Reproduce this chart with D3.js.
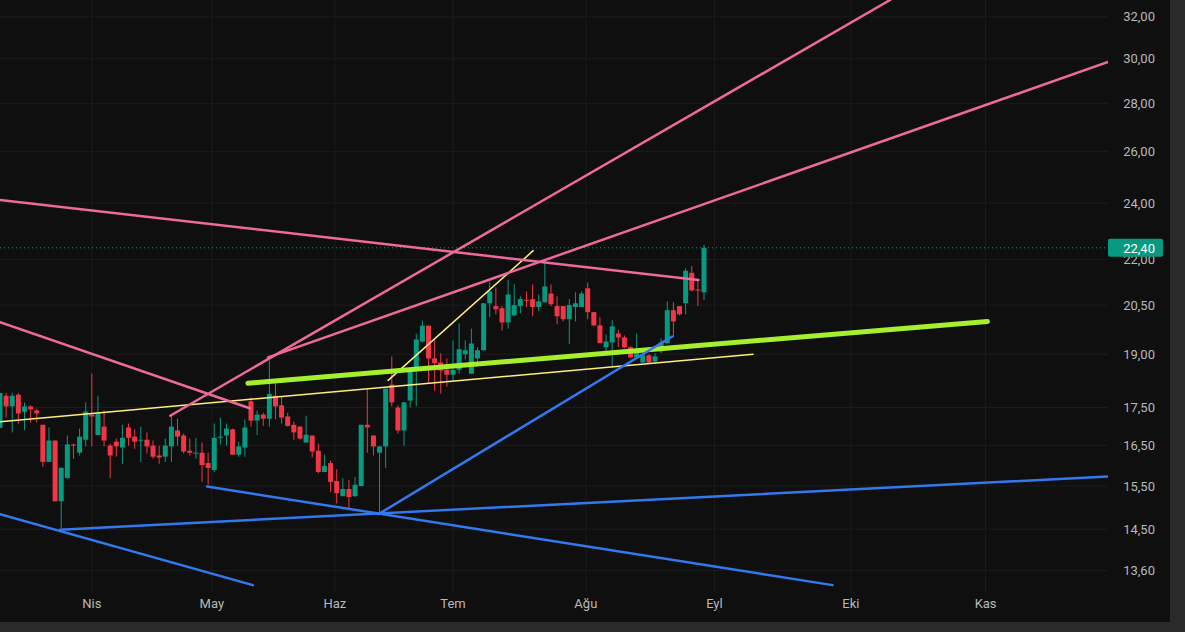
<!DOCTYPE html>
<html><head><meta charset="utf-8">
<script src="https://cdn.jsdelivr.net/npm/d3@7"></script>
<style>body{margin:0;background:#2a2a2a;overflow:hidden}svg{display:block}</style>
</head><body><svg id="c" width="1185" height="632"></svg>
<script>
// candles: [open, high, low, close], one per trading day
const candles = [
[16.96,17.90,16.96,17.90],[17.82,17.90,17.23,17.53],[17.53,17.90,16.84,17.82],[17.85,17.90,17.07,17.34],[17.39,17.64,16.90,17.53],
[17.53,17.56,17.10,17.45],[17.42,17.47,17.10,17.34],[17.04,17.04,15.97,16.09],[16.09,16.97,16.09,16.63],[16.63,16.63,15.14,15.14],
[15.14,15.96,14.53,15.94],[15.69,16.76,15.69,16.53],[16.53,16.55,16.17,16.50],[16.32,16.94,16.25,16.73],[16.65,17.64,16.48,17.39],
[17.31,18.44,16.48,17.26],[16.77,17.82,16.77,17.34],[16.99,17.42,16.48,16.63],[16.50,16.55,15.69,16.25],[16.60,16.68,16.22,16.48],
[16.45,17.04,16.04,16.70],[16.97,17.07,16.50,16.70],[16.73,16.92,16.42,16.60],[16.63,16.99,16.09,16.65],[16.65,16.84,16.30,16.48],
[16.50,16.63,16.17,16.22],[16.25,16.50,16.04,16.20],[16.22,16.68,16.09,16.50],[16.48,17.26,16.09,16.99],[16.89,17.20,16.50,16.73],
[16.76,16.81,16.30,16.35],[16.37,16.68,16.25,16.32],[16.30,16.70,16.17,16.32],[16.32,16.58,15.60,16.01],[16.06,16.32,15.53,15.94],
[15.89,17.07,15.84,16.70],[16.70,17.23,16.53,16.73],[16.76,17.07,16.50,16.94],[16.92,16.94,16.27,16.27],[16.27,16.60,16.22,16.48],
[16.45,17.18,16.22,16.97],[17.67,17.77,16.99,17.15],[17.15,17.42,16.77,17.31],[17.31,17.36,17.01,17.20],[17.20,18.82,16.99,17.87],
[17.82,18.23,17.18,17.53],[17.56,17.80,17.07,17.23],[17.26,17.36,16.99,17.01],[17.04,17.12,16.65,16.84],[16.99,17.01,16.65,16.68],
[16.58,17.28,16.58,16.78],[16.76,16.76,16.20,16.35],[16.37,16.55,15.81,15.84],[15.84,16.27,15.84,15.99],[16.06,16.12,15.36,15.60],
[15.62,15.91,15.09,15.33],[15.26,15.69,15.26,15.43],[15.43,15.65,14.97,15.24],[15.26,15.72,15.24,15.53],[15.50,17.04,15.50,17.04],
[17.04,18.02,16.32,16.97],[16.76,16.76,16.25,16.48],[16.32,16.48,14.88,16.48],[16.48,18.02,15.94,18.02],[18.13,18.94,17.53,17.64],
[17.50,17.56,16.81,16.89],[16.89,17.64,16.50,17.64],[17.69,18.60,17.50,18.60],[18.60,19.62,17.53,19.44],[19.38,20.02,19.35,19.86],
[19.86,19.86,18.15,18.88],[18.88,19.41,17.96,18.74],[18.76,19.03,17.88,18.53],[18.55,18.88,18.07,18.41],[18.41,19.41,18.23,18.55],
[18.55,19.93,18.44,19.15],[19.00,19.41,18.85,19.12],[18.44,19.77,18.44,19.32],[18.88,19.21,18.76,19.12],[19.12,20.56,19.12,20.56],
[20.56,21.26,20.12,20.94],[20.47,21.07,20.21,20.37],[20.40,20.47,19.71,19.96],[19.96,21.32,19.77,20.84],[20.18,21.17,20.15,20.50],
[20.47,20.78,20.24,20.69],[20.67,20.94,20.44,20.66],[20.69,21.17,20.15,20.44],[20.44,20.84,20.31,20.62],[20.59,22.00,20.59,21.10],
[20.87,21.17,20.47,20.53],[20.47,20.78,19.90,20.15],[20.47,20.47,19.99,20.06],[20.06,20.69,19.30,20.50],[20.44,20.91,19.99,20.56],
[20.44,20.94,20.44,20.87],[21.04,21.23,20.06,20.28],[20.28,20.28,19.84,19.87],[19.87,20.12,19.33,19.33],[19.21,19.59,18.97,19.38],
[19.35,20.03,18.62,19.84],[19.62,19.74,19.21,19.50],[19.50,19.56,19.18,19.21],[19.21,19.24,18.88,18.91],[18.91,19.62,18.91,19.06],
[18.76,19.03,18.76,18.97],[18.97,19.00,18.74,18.76],[18.79,19.03,18.74,18.94],[19.09,19.47,19.03,19.35],[19.33,20.62,19.30,20.34],
[20.34,20.59,19.50,19.99],[20.47,20.47,20.18,20.21],[20.56,21.70,20.21,21.62],[21.55,21.78,20.94,20.97],[21.00,21.30,20.47,20.97],
[20.91,22.50,20.66,22.40]
];
const priceTicks = [32,30,28,26,24,22,20.5,19,17.5,16.5,15.5,14.5,13.6];
const monthLabels = ["Nis","May","Haz","Tem","Ağu","Eyl","Eki","Kas"];
const monthIndex = [16.0,35.6,55.7,75.0,96.7,117.7,140.0,162.0];
const lastPrice = 22.40;
// trend lines: [index1, value1, index2, value2]
const pinkLines = [[28.8,17.28,146.4,32.85],[44.8,18.91,182,29.85],[1,24.12,115.1,21.31],[1,19.97,41.8,17.48]];
const limeLines = [[41.5,18.17,162.3,19.99]];
const yellowLines = [[1,17.12,124,19.0],[64.4,18.25,88.1,22.3]];
const blueLines = [[1,14.84,42.3,13.30],[10.8,14.49,182,15.73],[34.8,15.49,137,13.30],[62.8,14.84,110.8,19.53]];

const svg = d3.select("#c");
const W = 1170, PW = 1108, PH = 592;
svg.append("rect").attr("width",1185).attr("height",632).attr("fill","#2a2a2a");
svg.append("rect").attr("width",W).attr("height",622).attr("fill","#0f0f0f");
const x = d3.scaleLinear().domain([1,116]).range([0,704]);
const y = d3.scaleLog().domain([32.85,13.20]).range([0,590]);
const fmt = v => v.toFixed(2).replace(".",",");
const g = svg.append("g");
// grid
g.selectAll(".hg").data(priceTicks).join("line").attr("x1",0).attr("x2",PW)
 .attr("y1",d=>y(d)).attr("y2",d=>y(d)).attr("stroke","#1c1c1c");
g.selectAll(".vg").data(monthIndex).join("line").attr("y1",0).attr("y2",PH)
 .attr("x1",d=>x(d)).attr("x2",d=>x(d)).attr("stroke","#1c1c1c");
const clip = svg.append("clipPath").attr("id","pc").append("rect").attr("width",PW).attr("height",PH);
const p = svg.append("g").attr("clip-path","url(#pc)");
// last price dotted
p.append("line").attr("x1",0).attr("x2",PW).attr("y1",y(lastPrice)).attr("y2",y(lastPrice))
 .attr("stroke","#089981").attr("stroke-dasharray","1,3");
// candles
const up="#089981", dn="#f23645";
const cg = p.selectAll(".c").data(candles).join("g");
cg.append("line").attr("x1",(d,i)=>x(i+1)).attr("x2",(d,i)=>x(i+1))
 .attr("y1",d=>y(d[1])).attr("y2",d=>y(d[2])).attr("stroke",d=>d[3]>=d[0]?up:dn);
cg.append("rect").attr("x",(d,i)=>x(i+1)-2.5).attr("width",5)
 .attr("y",d=>y(Math.max(d[0],d[3]))).attr("height",d=>Math.max(1,Math.abs(y(d[0])-y(d[3]))))
 .attr("fill",d=>d[3]>=d[0]?up:dn);
function drawLines(arr,color,w){
  p.selectAll(null).data(arr).join("line")
   .attr("x1",d=>x(d[0])).attr("y1",d=>y(d[1])).attr("x2",d=>x(d[2])).attr("y2",d=>y(d[3]))
   .attr("stroke",color).attr("stroke-width",w).attr("stroke-linecap","round");
}
drawLines(yellowLines,"#ffee7a",1.5);
drawLines(limeLines,"#a5f02e",5);
drawLines(pinkLines,"#ee6a98",2.5);
drawLines(blueLines,"#3279f0",2.5);
// axes
const ax = svg.append("g").attr("font-family","Roboto, sans-serif").attr("font-size",13).attr("fill","#b8b8b8");
ax.selectAll(".yt").data(priceTicks).join("text").attr("x",1155).attr("y",d=>y(d)+4.5)
 .attr("text-anchor","end").text(fmt);
ax.selectAll(".xt").data(monthIndex).join("text").attr("x",d=>x(d)).attr("y",608)
 .attr("text-anchor","middle").text((d,i)=>monthLabels[i]);
svg.append("rect").attr("x",1108).attr("y",y(lastPrice)-9).attr("width",55).attr("height",18).attr("rx",2).attr("fill","#089981");
svg.append("text").attr("x",1155).attr("y",y(lastPrice)+5).attr("text-anchor","end")
 .attr("font-family","Roboto, sans-serif").attr("font-size",13).attr("fill","#fff").text(fmt(lastPrice));
</script></body></html>
